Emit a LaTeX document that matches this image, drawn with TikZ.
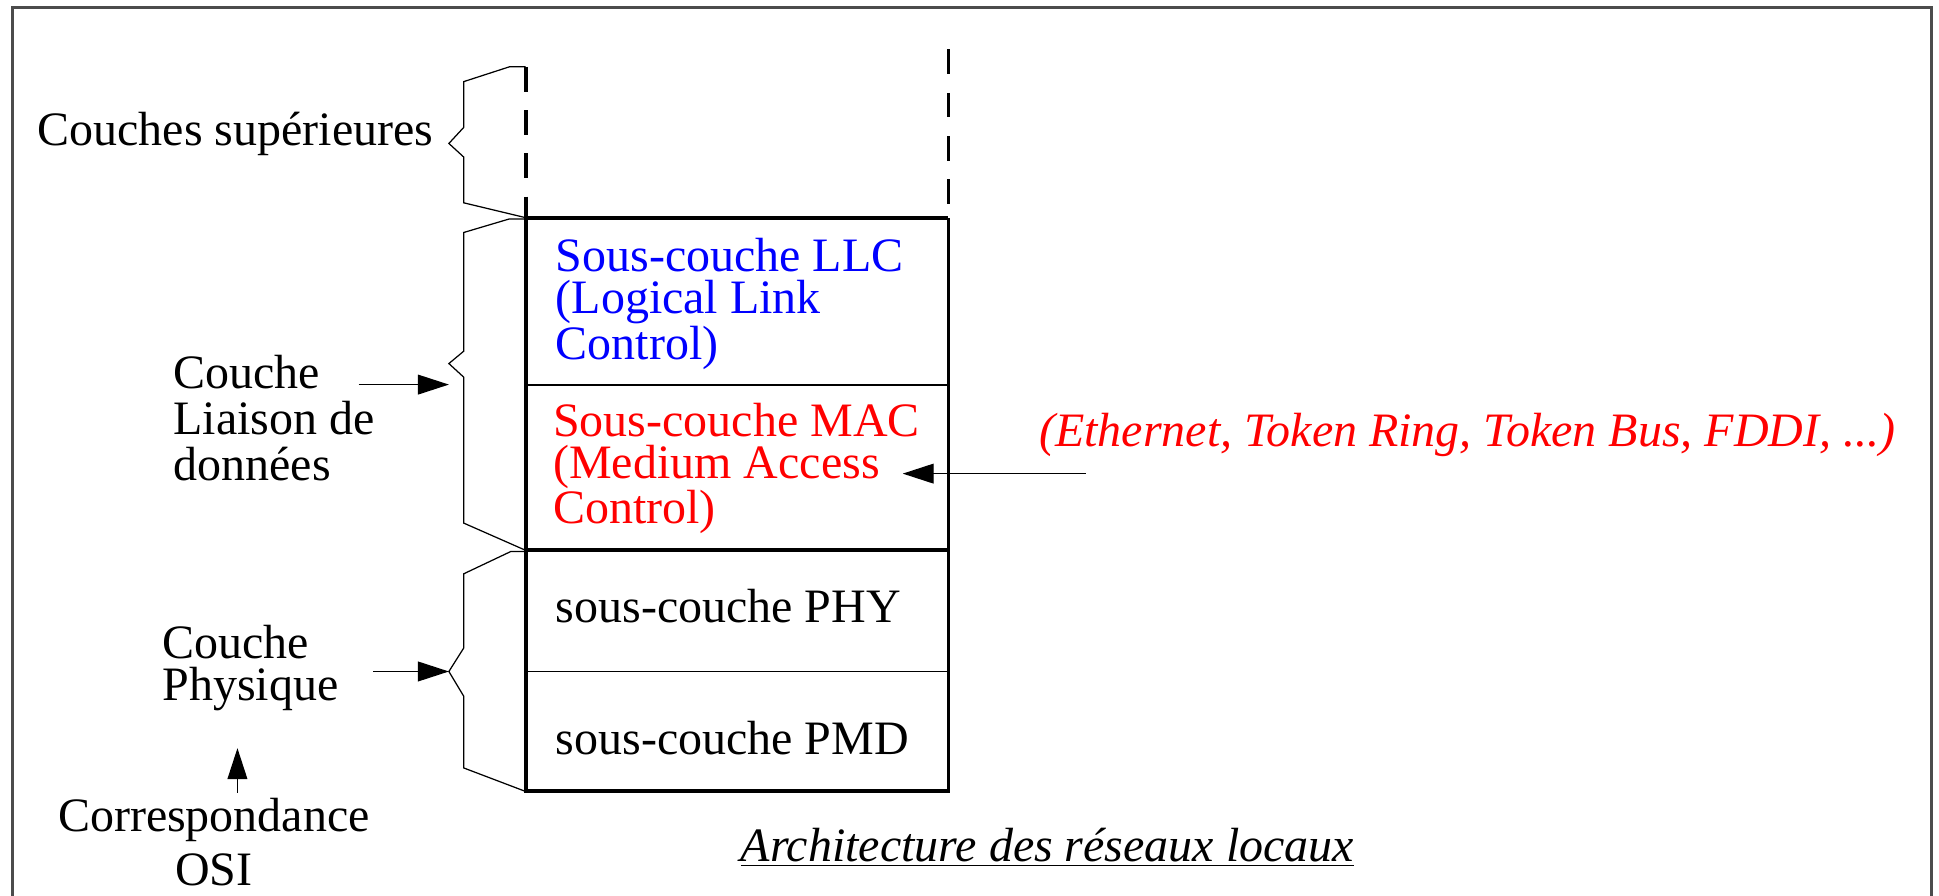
\documentclass[tikz,border=0pt]{standalone}
\usepackage{fontspec}
\setmainfont{Liberation Serif}
\usetikzlibrary{arrows.meta}

\begin{document}
\begin{tikzpicture}[line cap=butt,line join=miter,x=0.5pt,y=-0.5pt,
  txt/.style={inner sep=0pt,align=left,font=\fontsize{19.4}{17}\selectfont},
  pointer/.style={line width=0.5pt,-{Triangle[length=12.5pt,width=8pt]}},
  brace/.style={line width=0.5pt},
  thickrule/.style={line width=1.6pt},
  thinrule/.style={line width=0.8pt}]

\useasboundingbox (0,0) rectangle (1568,724);
\clip (0,0) rectangle (1568,724);
\draw [line width=1pt,black!70] (10,740)-- (10,6)-- (1562,6)-- (1562,740);

% pile des couches
\draw [thickrule,dash pattern=on 10pt off 7.5pt] (425,54)-- (425,176);
\draw [thickrule,dash pattern=on 10pt off 7.5pt] (767,40)-- (767,176);
\draw [thickrule] (425,176)-- (767,176);
\draw [thinrule] (425,311)-- (767,311);
\draw [thickrule] (425,445)-- (767,445);
\draw [thinrule] (425,543)-- (767,543);
\draw [thickrule] (425,176)-- (425,640)-- (767,640)-- (767,176);

\node [txt,anchor=west,text=blue,font=\fontsize{19.4}{16.8}\selectfont] (llc) at (449,246) {Sous-couche LLC\\(Logical Link\\Control)};
\node [txt,anchor=west,text=red,font=\fontsize{19.4}{16.8}\selectfont] (mac) at (447,379) {Sous-couche MAC\\(Medium Access\\Control)};
\node [txt,anchor=west] (phy) at (449,490) {sous-couche PHY};
\node [txt,anchor=west] (pmd) at (449,597) {sous-couche PMD};

% accolades
\draw [brace] (425,54)-- (412,54)-- (375,66)-- (375,103)-- (363,116)-- (375,127)-- (375,164)-- (425,176);
\draw [brace] (425,177)-- (412,177)-- (375,188)-- (375,284)-- (363,294)-- (375,305)-- (375,423)-- (425,445);
\draw [brace] (425,446)-- (413,446)-- (375,464)-- (375,524)-- (363,543)-- (375,563)-- (375,621)-- (425,640);

% textes de gauche
\node [txt,anchor=west] (sup) at (30,108) {Couches sup\'erieures};
\node [txt,anchor=west,font=\fontsize{19.4}{18.75}\selectfont] (liaison) at (140,338) {Couche\\Liaison de\\donn\'ees};
\node [txt,anchor=west] (physique) at (131,540) {Couche\\Physique};
\node [txt,align=center,font=\fontsize{19.4}{21.5}\selectfont] (osi) at (173,681) {Correspondance\\OSI};

\coordinate (liaisonTail) at (290,311);
\coordinate (liaisonTip) at (363,311);
\coordinate (physTail) at (302,543);
\coordinate (physTip) at (363,543);
\coordinate (osiTail) at (192,641);
\coordinate (osiTip) at (192,605);
\draw [pointer] (liaisonTail)-- (liaisonTip);
\draw [pointer] (physTail)-- (physTip);
\draw [pointer] (osiTail)-- (osiTip);

% reseaux
\node [txt,anchor=west,text=red,font=\fontsize{19.4}{17}\itshape] (exemples) at (840,352) {(Ethernet, Token Ring, Token Bus, FDDI, ...)};
\coordinate (macTail) at (878,383);
\coordinate (macTip) at (730,383);
\draw [pointer] (macTail)-- (macTip);

\node [txt,font=\fontsize{19.4}{17}\itshape] (titre) at (847,685) {\underline{Architecture des r\'eseaux locaux}};
\end{tikzpicture}
\end{document}
